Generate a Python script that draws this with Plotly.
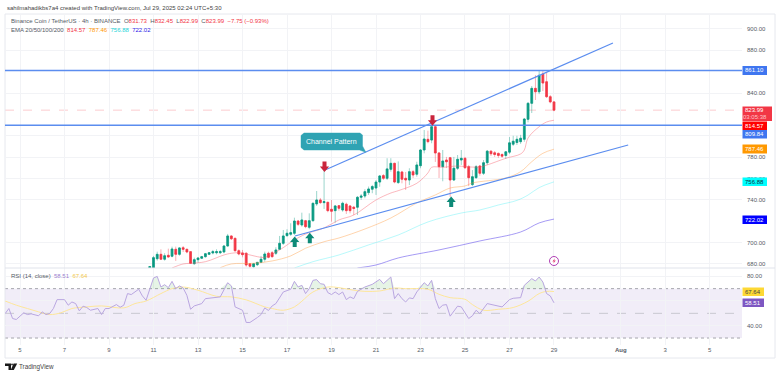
import pandas as pd
import plotly.graph_objects as go

# ---- data (oldest bar first) ----
opens = [675.8,676.2,684.9,689.0,684.4,688.1,687.2,693.7,689.0,695.2,693.7,691.5,680.2,684.0,685.3,686.8,689.0,690.3,690.5,690.5,691.2,696.8,706.2,704.0,692.4,690.3,690.0,680.2,677.4,679.3,681.5,684.4,690.0,690.5,690.0,693.7,699.3,706.5,707.8,708.7,720.2,716.5,720.5,714.3,720.5,736.2,739.9,737.4,737.7,731.2,729.9,734.6,730.5,735.9,734.3,733.1,733.1,742.4,743.6,746.8,750.0,751.1,756.7,762.7,760.2,768.6,774.2,756.2,766.1,760.2,758.6,766.4,764.0,772.0,786.7,796.7,796.0,808.5,783.9,771.1,777.3,779.5,758.6,769.6,777.3,778.9,771.1,754.3,760.8,771.7,764.9,774.8,785.6,784.1,783.5,782.5,781.6,784.7,792.1,793.7,794.5,796.7,815.4,830.4,844.4,841.2,857.9,850.6,836.6,831.73]
highs = [678.1,687.5,691.5,693.7,690.0,694.3,696.2,696.2,695.6,696.8,694.3,692.1,685.9,686.2,687.5,690.3,691.2,693.1,693.7,693.1,697.7,708.1,706.8,704.6,693.7,693.1,690.9,680.9,680.9,681.8,687.5,691.5,691.5,692.1,695.6,706.2,711.8,712.5,718.1,723.3,721.2,728.0,721.2,727.4,737.4,748.3,741.8,768.0,738.3,739.9,735.2,735.2,738.3,737.4,734.9,734.3,743.6,745.5,750.0,752.5,754.0,758.6,763.3,764.2,779.0,779.0,774.8,776.0,767.1,766.1,769.6,768.0,775.7,787.4,805.4,804.8,810.1,810.1,784.8,786.7,780.2,780.2,780.2,782.0,786.7,780.2,772.7,767.9,772.7,772.7,777.3,786.7,786.3,785.7,784.4,783.5,785.7,798.8,800.0,800.0,800.9,816.7,831.6,846.6,856.8,861.0,861.0,858.8,838.2,832.45]
lows = [675.3,676.2,683.1,683.7,683.1,685.9,686.2,682.8,687.7,691.2,690.0,680.0,679.3,681.2,684.6,685.9,688.4,689.0,689.0,689.3,690.0,696.2,702.4,691.5,688.1,686.2,677.4,676.2,676.2,678.1,680.9,682.1,685.3,685.9,688.4,693.1,697.8,705.5,706.2,707.1,715.5,714.9,713.4,712.5,719.6,734.3,736.2,731.5,728.4,719.6,718.6,729.9,728.9,726.8,727.4,725.8,725.8,739.9,741.5,744.6,746.2,744.6,752.3,758.6,758.6,766.4,755.5,754.9,755.5,749.3,753.9,760.5,761.7,769.6,783.6,793.0,793.0,775.5,760.5,757.4,769.8,742.7,757.8,768.0,772.7,769.0,752.9,752.9,759.6,762.6,763.3,772.7,781.1,780.2,779.3,779.3,778.3,783.0,790.4,791.4,792.4,794.4,812.6,821.3,833.5,839.0,841.9,835.4,830.4,822.99]
closes = [677.6,685.9,689.0,684.4,687.7,686.5,694.0,689.0,695.0,693.7,691.2,680.6,684.0,685.6,686.8,689.6,690.5,691.5,691.5,691.5,696.8,706.2,703.6,692.4,689.3,688.7,679.0,677.8,680.2,681.5,684.4,689.3,686.2,686.8,693.1,699.3,706.2,708.7,709.3,720.2,717.1,721.2,714.9,720.5,736.8,739.9,737.4,738.3,729.9,729.3,734.3,732.1,736.8,729.9,729.9,732.0,742.4,743.6,747.7,750.2,752.5,756.7,762.4,760.2,769.0,774.2,756.7,766.4,759.3,758.6,766.4,763.3,772.7,786.7,797.0,794.5,808.5,783.9,771.1,776.4,775.7,758.6,769.6,778.0,778.9,770.1,760.8,761.7,771.1,764.9,774.8,785.6,783.2,782.5,781.6,780.9,785.0,793.4,794.9,796.7,797.7,815.7,830.4,844.4,841.2,856.6,849.4,836.6,831.74,823.99]

ema20_k = [103,100,98,94,89,87,85,83,80,78,74,70,67,62,58,54,48,44,42,37,34,33,30,26,24,20,18,13,9,8,7,4,2,0]
ema20 = [676.2,680,680.6,682.1,688.4,690,690.5,689.3,686.8,686.2,693.1,702.4,708,713.7,721.2,725.8,739.9,746.4,748.6,755.5,765.2,770.5,770.5,771.7,771.1,770.8,772.7,778.9,783,786.7,797.9,808.5,812.9,814.57]
ema50_k = [90,87,81,76,71,67,62,58,51,44,37,32,28,24,22,13,9,6,3,0]
ema50 = [676.5,680,680.6,682.8,687.5,694.7,700.8,704.3,712.7,723,737.1,744.6,751.1,753,755.8,760.5,766.4,775.7,783.6,787.46]
ema100_k = [70,65,58,50,42,34,25,20,15,10,7,4,0]
ema100 = [676.2,682.1,688.4,697.8,707.1,719.3,727.7,730.5,735.2,739.5,744.5,751.5,756.88]
ema200_k = [53,48,42,31,20,9,4,0]
ema200 = [676.2,679,685.6,693.1,701.5,709.9,718.4,722.02]

rsi_k = [148,147,146,145,143,142,141,139,138,137,136,135,134,132,131,130,129,128,127,126,125,123,122,121,120,118,117,116,115,114,112,111,110,109,108,107,106,105,104,103,102,101,100,99,98,97,95,94,92,90,88,87,86,84,83,82,80,79,78,77,76,75,73,71,70,69,68,67,66,65,64,63,62,61,60,59,58,57,56,55,54,53,51,49,47,46,44,43,42,41,40,39,38,37,35,34,33,32,31,30,29,28,26,25,23,22,21,20,18,16,14,12,11,9,8,6,5,4,3,2,1,0]
rsi = [49.8,53.9,45.8,45,50.4,49,49.6,48,51.2,49,49.8,53.9,61.1,61.1,56.6,59.2,57.9,52,55.8,54.7,52.5,53.9,49,53.9,53.9,57.1,54.9,56.6,66,65.2,69.5,64.1,60.6,70,78.6,79.9,71.3,73.2,70.8,75.9,70,72.2,70.5,64.6,53.3,56,57.9,61.9,62.7,63.3,74.8,72.2,55.2,52.5,42.6,42.6,46.6,49,54.4,52.3,56,57.9,67.3,69.5,75.9,71.3,72.7,66,70,76.7,77.3,74,73.5,66.8,65.2,67.3,65.2,67.3,61.1,63.3,61.9,67.8,71.3,73.5,77.5,74,79.4,61.9,66,61.9,59.2,62.5,61.9,67.3,74.8,72.2,76.7,61.9,53.9,56.6,57.1,47.7,55.8,55.2,45.8,48,52.5,49.8,57.9,56.6,55.2,61.1,62.2,62.7,72.7,78.1,76.2,79.4,75.4,66,64.1,58.51]
rsi_ma_k = [148,145,142,139,136,133,130,126,122,116,113,110,106,103,100,96,91,87,83,78,76,73,70,68,65,61,58,54,51,47,43,40,34,31,28,24,22,19,15,11,7,4,2,0]
rsi_ma = [60,56.6,53.9,51.2,49,50.4,53.9,55.2,56,54.4,57.9,60,66,70,71.3,68.7,63.8,63.3,60.9,55.2,53.9,52.5,55.2,59.8,67.3,71.3,70.8,68.7,67.8,68.1,70.5,70,69.5,65.4,62.7,61.4,57.1,52.5,53.3,54.7,59.8,66,67.8,67.64]

resistance_top = 861.10
resistance_mid = 809.84
last_close = 823.99
upper_channel_t = ["2025-07-18 17:00", "2025-07-31 15:36"]
upper_channel_p = [768.0, 886.9]
lower_channel_t = ["2025-07-17 08:38", "2025-08-01 08:00"]
lower_channel_p = [706.2, 791.4]
price_ticks = [900, 880, 840, 800, 780, 760, 740, 700, 680]
price_tick_text = ["900.00", "880.00", "840.00", "", "780.00", "760.00", "740.00", "700.00", "680.00"]
rsi_ticks = [80, 60, 40, 20]
rsi_tick_text = ["80.00", "", "40.00", ""]
day_ticks = ["2025-07-05","2025-07-07","2025-07-09","2025-07-11","2025-07-13","2025-07-15","2025-07-17","2025-07-19",
             "2025-07-21","2025-07-23","2025-07-25","2025-07-27","2025-07-29","2025-08-01","2025-08-03","2025-08-05"]
day_tick_text = ["5","7","9","11","13","15","17","19","21","23","25","27","29","<b>Aug</b>","3","5"]

# ---- geometry ----
W, H = 780, 376
L, R, T, B = 5, 742, 14, 345
SPLIT = 268
FONT = "Liberation Sans"
FS = 6
GREY = "#555b66"
GRID = "#f2f3f6"


def px(x):
    return (x - L) / (R - L)


def py(y):
    return (B - y) / (B - T)


last_bar = pd.Timestamp("2025-07-29 00:00")
bar_times = pd.date_range(end=last_bar, periods=len(opens), freq="4h")


def times(ks):
    return [last_bar - pd.Timedelta(hours=4 * k) for k in ks]


fig = go.Figure()

# RSI pane
rsi_t = times(rsi_k)
fig.add_trace(go.Scatter(x=rsi_t, y=[70] * len(rsi), yaxis="y2", mode="lines", line=dict(width=0), hoverinfo="skip"))
fig.add_trace(go.Scatter(x=rsi_t, y=[max(v, 70) for v in rsi], yaxis="y2", mode="lines", line=dict(width=0),
                         fill="tonexty", fillcolor="rgba(76,175,80,0.14)", hoverinfo="skip"))
fig.add_trace(go.Scatter(x=times(rsi_ma_k), y=rsi_ma, yaxis="y2", mode="lines",
                         line=dict(color="#fde69a", width=1, shape="spline")))
fig.add_trace(go.Scatter(x=rsi_t, y=rsi, yaxis="y2", mode="lines", line=dict(color="#b9a6e0", width=1)))

# EMAs
for ks, vals, col in [(ema200_k, ema200, "rgba(92,72,235,0.55)"), (ema100_k, ema100, "rgba(80,240,245,0.4)"),
                      (ema50_k, ema50, "rgba(255,152,60,0.42)"), (ema20_k, ema20, "rgba(245,85,100,0.42)")]:
    fig.add_trace(go.Scatter(x=times(ks), y=vals, mode="lines", line=dict(color=col, width=1, shape="spline")))

# channel
fig.add_trace(go.Scatter(x=lower_channel_t, y=lower_channel_p, mode="lines", line=dict(color="#5b8def", width=1.2)))
fig.add_trace(go.Scatter(x=upper_channel_t, y=upper_channel_p, mode="lines", line=dict(color="#5b8def", width=1.2)))

# candles: faded wicks first, solid bodies on top
fig.add_trace(go.Candlestick(
    x=bar_times, open=opens, high=highs, low=lows, close=closes,
    increasing=dict(line=dict(color="rgba(8,153,129,0.4)", width=1), fillcolor="rgba(0,0,0,0)"),
    decreasing=dict(line=dict(color="rgba(242,54,69,0.4)", width=1), fillcolor="rgba(0,0,0,0)"),
    whiskerwidth=0,
))
fig.add_trace(go.Candlestick(
    x=bar_times, open=opens, close=closes,
    high=[max(a, b) for a, b in zip(opens, closes)], low=[min(a, b) for a, b in zip(opens, closes)],
    increasing=dict(line=dict(color="#089981", width=0.6), fillcolor="#089981"),
    decreasing=dict(line=dict(color="#f23645", width=0.6), fillcolor="#f23645"),
    whiskerwidth=0,
))


def rect(x0, y0, x1, y1, fill, line="rgba(0,0,0,0)", width=0, layer="above"):
    return dict(type="rect", xref="paper", yref="paper", x0=px(x0), x1=px(x1), y0=py(y0), y1=py(y1),
                fillcolor=fill, line=dict(color=line, width=width), layer=layer)


def poly(points, fill, line="rgba(0,0,0,0)", width=0):
    d = "M " + " L ".join(f"{px(a):.5f},{py(b):.5f}" for a, b in points) + " Z"
    return dict(type="path", xref="paper", yref="paper", path=d, fillcolor=fill, line=dict(color=line, width=width), layer="above")


def arrow(cx, tip, up, col):
    s = 1 if up else -1
    pts = [(cx, tip), (cx + 4.6, tip + s * 5.5), (cx + 2, tip + s * 5.5), (cx + 2, tip + s * 10.5),
           (cx - 2, tip + s * 10.5), (cx - 2, tip + s * 5.5), (cx - 4.6, tip + s * 5.5)]
    return poly(pts, col)


shapes = [
    # RSI band and its lines
    dict(type="rect", xref="x domain", yref="y2", x0=0, x1=1, y0=30, y1=70, fillcolor="rgba(126,87,194,0.11)",
         line=dict(width=0), layer="below"),
    dict(type="line", xref="x domain", yref="y2", x0=0, x1=1, y0=70, y1=70, line=dict(color="#a5a5ad", width=1, dash="dot"), layer="below"),
    dict(type="line", xref="x domain", yref="y2", x0=0, x1=1, y0=50, y1=50, line=dict(color="#c8c8d0", width=1, dash="dash"), layer="below"),
    dict(type="line", xref="x domain", yref="y2", x0=0, x1=1, y0=30, y1=30, line=dict(color="#a5a5ad", width=1, dash="dot"), layer="below"),
    # price levels
    dict(type="line", xref="x domain", yref="y", x0=0, x1=1, y0=last_close, y1=last_close, line=dict(color="rgba(242,54,69,0.25)", width=1, dash="dash"), layer="below"),
    dict(type="line", xref="x domain", yref="y", x0=0, x1=1, y0=resistance_top, y1=resistance_top, line=dict(color="#5b8def", width=1.5)),
    dict(type="line", xref="x domain", yref="y", x0=0, x1=1, y0=resistance_mid, y1=resistance_mid, line=dict(color="#5b8def", width=1.5)),
    # frame and pane separator
    dict(type="rect", xref="paper", yref="paper", x0=px(5), x1=px(775), y0=py(14), y1=py(358), line=dict(color="#e6e8ee", width=1), layer="below"),
    dict(type="line", xref="paper", yref="paper", x0=px(5), x1=px(775), y0=py(SPLIT), y1=py(SPLIT), line=dict(color="#e0e3eb", width=1), layer="above"),
    # arrows
    arrow(324.5, 172, False, "#c9253d"), arrow(432.5, 125.7, False, "#c9253d"),
    arrow(294.7, 236.5, True, "#0e8a78"), arrow(309.8, 232.7, True, "#0e8a78"), arrow(451.2, 196.5, True, "#0e8a78"),
    # callout
    poly([(304, 133), (360, 133), (362.5, 135), (362.5, 146), (365.8, 152.3), (359.5, 150), (304, 150), (301, 147.5), (301, 135.5)],
         "#2fa3b3", "rgba(47,163,179,0.45)", 1),
    # small badge near the last bar
    dict(type="circle", xref="paper", yref="paper", x0=px(549.5), x1=px(558.5), y0=py(256.5), y1=py(265.5),
         fillcolor="white", line=dict(color="#b03fb5", width=1), layer="above"),
    poly([(554.8, 258.2), (552.4, 261.4), (554, 261.4), (553.2, 263.8), (555.8, 260.4), (554.2, 260.4)], "#e0457a"),
    # logo
    poly([(5, 363.5), (11, 363.5), (11, 370), (8.5, 370), (8.5, 366), (5, 366)], "#1a1a1a"),
    poly([(13.6, 363.5), (17.2, 363.5), (13.8, 370), (10.8, 370)], "#1a1a1a"),
    dict(type="circle", xref="paper", yref="paper", x0=px(11.2), x1=px(12.9), y0=py(363.6), y1=py(365.3), fillcolor="#1a1a1a", line=dict(width=0), layer="above"),
]


def text(x, y, s, size=FS, color=GREY, anchor="left", **kw):
    return dict(x=px(x), y=py(y), xref="paper", yref="paper", text=s, showarrow=False, xanchor=anchor, yanchor="middle",
                font=dict(family=FONT, size=size, color=color), **kw)


def tag(y0, y1, s, bg, fg="white", x0=742.5, x1=767):
    shapes.append(rect(x0, y0, x1, y1, bg))
    return text((x0 + x1) / 2, (y0 + y1) / 2, s, FS, fg, "center")


RED = "#f23645"
annotations = [
    text(5, 8, "sahilmahadikbs7a4 created with TradingView.com, Jul 29, 2025 02:24 UTC+5:30", FS, "#444"),
    text(9, 21, f"Binance Coin / TetherUS · 4h · BINANCE  O<span style='color:{RED}'>831.73</span>  H<span style='color:{RED}'>832.45</span>  "
                f"L<span style='color:{RED}'>822.99</span>  C<span style='color:{RED}'>823.99</span>  <span style='color:{RED}'>−7.75 (−0.93%)</span>", FS),
    text(9, 30, "EMA 20/50/100/200  <span style='color:#f23645'>814.57</span>  <span style='color:#ff9800'>787.46</span>  "
                "<span style='color:#22d3d8'>756.88</span>  <span style='color:#2c22e8'>722.02</span>", FS),
    text(9, 276, "RSI (14, close)  <span style='color:#9c82cf'>58.51</span>  <span style='color:#f2c94c'>67.64</span>", FS),
    text(17, 367, "TradingView", 6.3, "#444"),
    text(331.7, 141.5, "Channel Pattern", 7, "white", "center"),
    tag(66, 75, "861.10", "#3f76f0"),
    tag(130, 138.5, "809.84", "#3f76f0"),
    tag(144.5, 153.5, "787.46", "#ff9800"),
    tag(177.5, 186, "756.88", "#00ffff", "#134"),
    tag(215.5, 224, "722.02", "#0000ff"),
    tag(287.5, 296, "67.64", "#fdd835", "#444", 742.5, 764),
    tag(298.5, 307, "58.51", "#7e57c2", "white", 742.5, 764),
]
# red last-price tag, drawn after the neighbouring tags
shapes.append(rect(742.5, 106.5, 772, 121, "#f23645"))
annotations += [text(754.5, 110.2, "823.99", FS, "white", "center"), text(754.5, 117.3, "03:05:38", FS, "#ffc2c8", "center")]
annotations.append(tag(121.5, 130, "814.57", "#ff0000"))

fig.update_layout(
    width=W, height=H, margin=dict(l=L, r=W - R, t=T, b=H - B, autoexpand=False),
    paper_bgcolor="white", plot_bgcolor="white", showlegend=False,
    font=dict(family=FONT, size=FS, color=GREY),
    xaxis=dict(type="date", anchor="y2", range=["2025-07-04 07:49", "2025-08-06 10:48"], rangeslider=dict(visible=False),
               tickmode="array", tickvals=day_ticks, ticktext=day_tick_text, tickangle=0, showgrid=True, gridcolor=GRID, gridwidth=1,
               ticks="", zeroline=False, showline=False, tickfont=dict(family=FONT, size=FS, color=GREY)),
    yaxis=dict(domain=[(B - SPLIT) / (B - T), 1], side="right", anchor="x", range=[676.2, 914.04], tickmode="array",
               tickvals=price_ticks, ticktext=price_tick_text, showgrid=True, gridcolor=GRID, zeroline=False, showline=False,
               ticks="", tickfont=dict(family=FONT, size=FS, color=GREY), ticklabelstandoff=4),
    yaxis2=dict(domain=[0, (B - SPLIT) / (B - T) - 0.001], side="right", anchor="x", range=[24.35, 86.45], tickmode="array",
                tickvals=rsi_ticks, ticktext=rsi_tick_text, showgrid=True, gridcolor=GRID, zeroline=False, showline=False,
                ticks="", tickfont=dict(family=FONT, size=FS, color=GREY), ticklabelstandoff=4),
    shapes=shapes, annotations=annotations,
)
fig.write_html("out.html", config=dict(displayModeBar=False),
               post_script="document.body.style.margin='0';document.body.style.overflow='hidden';")
